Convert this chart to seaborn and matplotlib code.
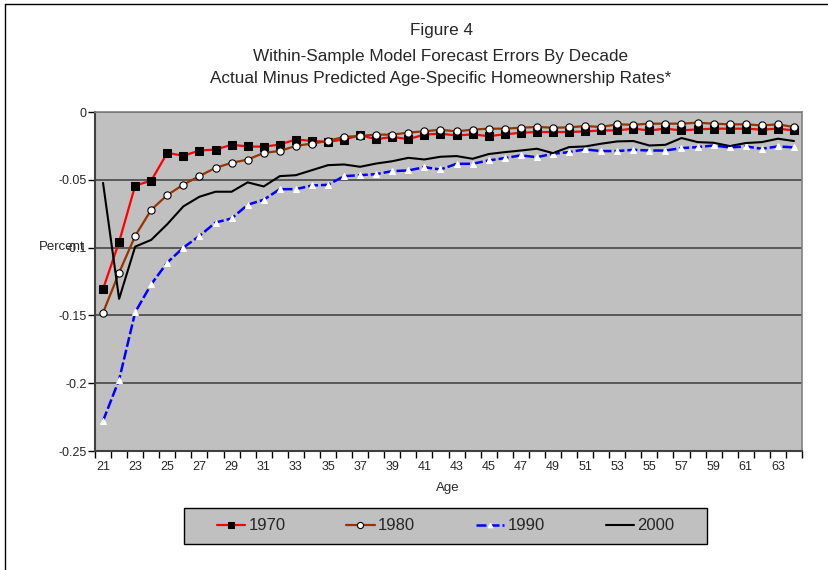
import matplotlib
matplotlib.use("Agg")
import matplotlib.pyplot as plt
from matplotlib.lines import Line2D
from matplotlib.patches import Rectangle
import numpy as np
import pandas as pd
import seaborn as sns

AGES = list(range(21, 65))

ERR_1970 = [-0.1306, -0.0958, -0.0543, -0.0506, -0.0301, -0.0323, -0.0284, -0.0277, -0.0242, -0.0254,
            -0.0256, -0.0240, -0.0203, -0.0213, -0.0220, -0.0203, -0.0172, -0.0200, -0.0184, -0.0200,
            -0.0167, -0.0160, -0.0173, -0.0165, -0.0178, -0.0165, -0.0153, -0.0148, -0.0148, -0.0148,
            -0.0143, -0.0136, -0.0136, -0.0123, -0.0136, -0.0123, -0.0136, -0.0128, -0.0123, -0.0123,
            -0.0123, -0.0130, -0.0123, -0.0136]
ERR_1980 = [-0.1480, -0.1185, -0.0914, -0.0721, -0.0612, -0.0536, -0.0472, -0.0412, -0.0375, -0.0351,
            -0.0302, -0.0287, -0.0250, -0.0233, -0.0213, -0.0184, -0.0176, -0.0167, -0.0167, -0.0152,
            -0.0142, -0.0131, -0.0143, -0.0130, -0.0123, -0.0123, -0.0116, -0.0110, -0.0116, -0.0113,
            -0.0104, -0.0110, -0.0091, -0.0094, -0.0086, -0.0086, -0.0086, -0.0079, -0.0086, -0.0091,
            -0.0091, -0.0099, -0.0091, -0.0111]
ERR_1990 = [-0.2278, -0.1975, -0.1477, -0.1270, -0.1110, -0.1000, -0.0914, -0.0815, -0.0785, -0.0684,
            -0.0647, -0.0569, -0.0569, -0.0542, -0.0537, -0.0473, -0.0466, -0.0458, -0.0436, -0.0431,
            -0.0407, -0.0424, -0.0382, -0.0382, -0.0357, -0.0340, -0.0320, -0.0333, -0.0308, -0.0296,
            -0.0276, -0.0288, -0.0288, -0.0279, -0.0284, -0.0284, -0.0266, -0.0259, -0.0247, -0.0261,
            -0.0254, -0.0271, -0.0254, -0.0261]
ERR_2000 = [-0.0523, -0.1378, -0.0993, -0.0943, -0.0827, -0.0696, -0.0625, -0.0588, -0.0588, -0.0519,
            -0.0549, -0.0473, -0.0466, -0.0429, -0.0392, -0.0387, -0.0404, -0.0380, -0.0363, -0.0338,
            -0.0350, -0.0330, -0.0325, -0.0345, -0.0310, -0.0296, -0.0284, -0.0271, -0.0303, -0.0259,
            -0.0254, -0.0234, -0.0217, -0.0214, -0.0247, -0.0242, -0.0192, -0.0222, -0.0227, -0.0251,
            -0.0229, -0.0222, -0.0197, -0.0214]

TITLE_LINES = [
    "Figure 4",
    "Within-Sample Model Forecast Errors By Decade",
    "Actual Minus Predicted Age-Specific Homeownership Rates*",
]
Y_TICKS = [-0.25, -0.2, -0.15, -0.1, -0.05, 0]
X_LABEL_TICKS = list(range(21, 64, 2))

sns.set_style("white")
plt.rcParams["font.family"] = ["Liberation Sans", "DejaVu Sans"]

df = pd.DataFrame({"Age": AGES, "1970": ERR_1970, "1980": ERR_1980,
                   "1990": ERR_1990, "2000": ERR_2000})

W, H = 829, 570
fig = plt.figure(figsize=(W / 100, H / 100), dpi=100)
ax = fig.add_axes([95 / W, 1 - 451 / H, (802 - 95) / W, (451 - 112) / H])
ax.set_facecolor("#C0C0C0")

sns.lineplot(data=df, x="Age", y="1970", ax=ax, color="#FF0000", lw=1.6,
             marker="s", markersize=5.5, markerfacecolor="black",
             markeredgecolor="black", label="1970")
sns.lineplot(data=df, x="Age", y="1980", ax=ax, color="#993300", lw=1.6,
             marker="o", markersize=5.2, markerfacecolor="white",
             markeredgecolor="black", markeredgewidth=0.8, label="1980")
sns.lineplot(data=df, x="Age", y="1990", ax=ax, color="#0000FF", lw=1.8,
             linestyle=(0, (4, 1.2)), marker="^", markersize=4,
             markerfacecolor="white", markeredgecolor="white", label="1990")
sns.lineplot(data=df, x="Age", y="2000", ax=ax, color="black", lw=1.5,
             label="2000")
handles, labels = ax.get_legend_handles_labels()
ax.get_legend().remove()

ax.set_xlim(20.5, 64.5)
ax.set_ylim(-0.25, 0)
ax.set_xticks(X_LABEL_TICKS)
ax.set_xticklabels([str(a) for a in X_LABEL_TICKS])
ax.set_xticks(np.arange(20.5, 65, 1), minor=True)
ax.tick_params(axis="x", which="major", length=0, pad=7, labelsize=9)
ax.tick_params(axis="x", which="minor", length=5, width=1, direction="out",
               color="black", bottom=True)
ax.set_yticks(Y_TICKS)
ax.set_yticklabels([f"{v:g}" for v in Y_TICKS])
ax.tick_params(axis="y", length=5, width=1, direction="out", color="black",
               left=True, labelsize=9, pad=1)
ax.set_xlabel("")
ax.set_ylabel("")

ax.yaxis.grid(True, color="#505050", lw=1.3)
ax.xaxis.grid(False)
ax.set_axisbelow(True)
for side in ["left", "bottom"]:
    ax.spines[side].set_color("#404040")
    ax.spines[side].set_linewidth(1.5)
for side in ["top", "right"]:
    ax.spines[side].set_color("#808080")
    ax.spines[side].set_linewidth(1.2)

for text, ypx in zip(TITLE_LINES, [31, 56, 79]):
    fig.text(441 / W, 1 - ypx / H, text, ha="center", va="center", fontsize=12.3)
fig.text(62 / W, 1 - 247 / H, "Percent", ha="center", va="center", fontsize=9.5)
fig.text(448 / W, 1 - 488 / H, "Age", ha="center", va="center", fontsize=9.5)

# legend box and outer chart frame
fig.patches.append(Rectangle((184 / W, 1 - 544 / H), (707 - 184) / W, 36 / H,
                             transform=fig.transFigure, facecolor="#C0C0C0",
                             edgecolor="black", lw=1, zorder=0))
fig.legend(handles, labels, ncol=4, loc="center",
           bbox_to_anchor=(445.5 / W, 1 - 526 / H), frameon=False, fontsize=12,
           handlelength=1.7, handletextpad=0.2, columnspacing=3.65, borderpad=0,
           markerscale=0.85)
fig.add_artist(Line2D([5.5 / W, 1.0], [1 - 4 / H, 1 - 4 / H],
                      transform=fig.transFigure, color="black", lw=1))
fig.add_artist(Line2D([5.5 / W, 5.5 / W], [0, 1 - 4 / H],
                      transform=fig.transFigure, color="black", lw=1))

fig.savefig("out.png", dpi=100)
